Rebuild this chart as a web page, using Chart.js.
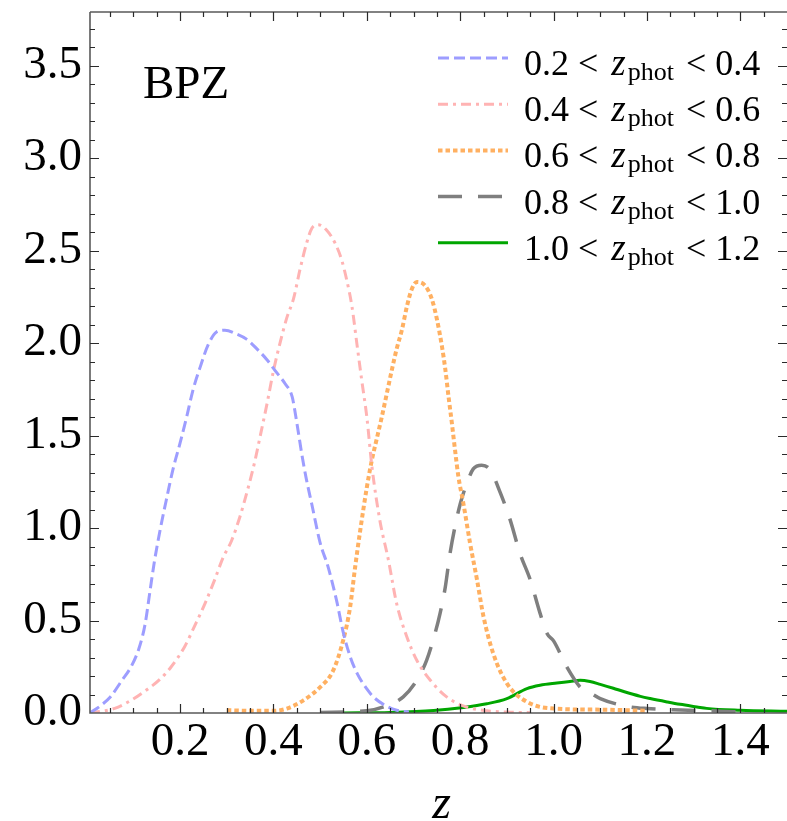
<!DOCTYPE html>
<html><head><meta charset="utf-8">
<script src="https://cdn.jsdelivr.net/npm/chart.js@4/dist/chart.umd.min.js"></script>
<style>html,body{margin:0;padding:0;background:#fff;}canvas{display:block;}</style>
</head><body>
<canvas id="c" width="787" height="821"></canvas>
<script>
// ---- data ----
const z1 = [0.007,0.03,0.05,0.075,0.095,0.112,0.125,0.135,0.145,0.158,0.172,0.185,0.20,0.214,0.228,0.243,0.26,0.278,0.296,0.32,0.343,0.364,0.386,0.407,0.425,0.44,0.45,0.46,0.47,0.482,0.50,0.517,0.535,0.55,0.565,0.58,0.60,0.614,0.64,0.664,0.69];
const p1 = [0.0,0.04,0.085,0.175,0.25,0.35,0.48,0.65,0.82,1.0,1.17,1.32,1.46,1.60,1.75,1.87,1.99,2.06,2.07,2.05,2.02,1.97,1.91,1.84,1.78,1.71,1.57,1.41,1.27,1.13,0.92,0.79,0.61,0.43,0.30,0.21,0.13,0.087,0.04,0.015,0.005];

const z2 = [0.007,0.02,0.06,0.096,0.131,0.156,0.181,0.21,0.231,0.253,0.274,0.292,0.31,0.328,0.346,0.36,0.371,0.386,0.40,0.414,0.429,0.443,0.457,0.471,0.482,0.496,0.514,0.532,0.546,0.557,0.568,0.579,0.589,0.60,0.611,0.628,0.646,0.664,0.686,0.707,0.736,0.771,0.814,0.857,0.9,0.95];
const p2 = [0.0,0.005,0.025,0.07,0.13,0.18,0.25,0.36,0.47,0.59,0.72,0.84,0.93,1.06,1.22,1.36,1.49,1.67,1.85,2.00,2.14,2.24,2.40,2.54,2.62,2.64,2.61,2.54,2.45,2.34,2.20,1.99,1.80,1.60,1.33,1.04,0.83,0.59,0.41,0.285,0.177,0.087,0.032,0.012,0.005,0.002];

const z3 = [0.30,0.35,0.40,0.43,0.465,0.50,0.528,0.55,0.564,0.575,0.586,0.60,0.611,0.621,0.632,0.643,0.654,0.664,0.675,0.686,0.696,0.707,0.725,0.739,0.75,0.761,0.768,0.775,0.782,0.789,0.796,0.807,0.821,0.836,0.85,0.871,0.90,0.943,1.0,1.1,1.2];
const p3 = [0.015,0.012,0.012,0.025,0.07,0.14,0.23,0.40,0.57,0.79,0.99,1.22,1.37,1.48,1.60,1.73,1.86,1.97,2.07,2.20,2.29,2.33,2.31,2.24,2.13,1.98,1.86,1.71,1.57,1.42,1.28,1.13,0.92,0.72,0.52,0.32,0.16,0.06,0.024,0.018,0.012];

const z4 = [0.50,0.60,0.643,0.678,0.707,0.728,0.746,0.757,0.768,0.778,0.789,0.80,0.814,0.828,0.846,0.864,0.886,0.907,0.928,0.95,0.971,0.986,1.0,1.028,1.057,1.078,1.10,1.157,1.2,1.257,1.357,1.40];
const p4 = [0.003,0.012,0.04,0.087,0.177,0.285,0.43,0.54,0.68,0.86,1.01,1.13,1.24,1.32,1.34,1.315,1.19,1.044,0.863,0.72,0.54,0.43,0.39,0.25,0.14,0.11,0.078,0.036,0.024,0.018,0.01,0.006];

const z5 = [0.55,0.65,0.743,0.807,0.857,0.90,0.943,0.971,1.007,1.035,1.057,1.078,1.10,1.128,1.15,1.186,1.207,1.243,1.271,1.307,1.328,1.40,1.50];
const p5 = [0.0,0.003,0.013,0.03,0.05,0.078,0.132,0.15,0.162,0.17,0.177,0.17,0.155,0.134,0.116,0.09,0.078,0.06,0.047,0.033,0.025,0.015,0.009];

const binLow  = ['0.2','0.4','0.6','0.8','1.0'];
const binHigh = ['0.4','0.6','0.8','1.0','1.2'];
const xTicks = [0.2,0.4,0.6,0.8,1.0,1.2,1.4];
const yTicks = [0.0,0.5,1.0,1.5,2.0,2.5,3.0,3.5];
const panelLabel = 'BPZ';
const axisTitle = 'z';

// ---- styling ----
const SERIF = '"Liberation Serif", "Times New Roman", serif';
const styles = [
  {color:'#9d9dff', width:3, dash:[11,5]},
  {color:'#ffb3b3', width:3, dash:[10,5,3,5]},
  {color:'#ffb061', width:4, dash:[4.5,3]},
  {color:'#7f7f7f', width:3.5, dash:[24,16]},
  {color:'#00a600', width:3, dash:[]}
];
const zs = [z1,z2,z3,z4,z5], ps = [p1,p2,p3,p4,p5];
const datasets = zs.map((z,i)=>({
  label: binLow[i] + ' < z_phot < ' + binHigh[i],
  data: z.map((x,j)=>({x:x, y:ps[i][j]})),
  borderColor: styles[i].color,
  borderWidth: styles[i].width,
  borderDash: styles[i].dash,
  borderCapStyle: 'butt',
  pointRadius: 0,
  fill: false,
  cubicInterpolationMode: 'monotone'
}));

const decorPlugin = {
  id: 'decor',
  afterDraw(chart) {
    const {ctx, chartArea: a, scales: {x, y}} = chart;
    ctx.save();
    // frame
    ctx.strokeStyle = '#5a5a5a'; ctx.lineWidth = 1.6;
    ctx.beginPath();
    ctx.moveTo(a.left, a.top); ctx.lineTo(a.right, a.top);
    ctx.moveTo(a.left, a.top); ctx.lineTo(a.left, a.bottom); ctx.lineTo(a.right, a.bottom);
    ctx.stroke();
    // ticks
    ctx.strokeStyle = '#2a2a2a'; ctx.lineWidth = 1.2;
    ctx.beginPath();
    for (let k = 1; k <= 29; k++) {
      const v = k * 0.05;
      if (v < x.min || v > x.max) continue;
      const major = k % 4 === 0;
      const L = major ? 9 : 5;
      const px = Math.round(x.getPixelForValue(v)) + 0.5;
      ctx.moveTo(px, a.bottom); ctx.lineTo(px, a.bottom - L);
      ctx.moveTo(px, a.top); ctx.lineTo(px, a.top + L);
    }
    for (let k = 1; k <= 37; k++) {
      const v = k * 0.1;
      if (v > y.max) continue;
      const major = k % 5 === 0;
      const L = major ? 9 : 5;
      const py = Math.round(y.getPixelForValue(v)) + 0.5;
      ctx.moveTo(a.left, py); ctx.lineTo(a.left + L, py);
      ctx.moveTo(a.right, py); ctx.lineTo(a.right - L, py);
    }
    ctx.stroke();

    // panel label
    ctx.fillStyle = '#000';
    ctx.textBaseline = 'alphabetic';
    ctx.textAlign = 'left';
    ctx.font = '47px ' + SERIF;
    ctx.fillText(panelLabel, a.left + 53, a.top + 86);

    // axis title
    ctx.textAlign = 'center';
    ctx.font = 'italic 48px ' + SERIF;
    ctx.fillText(axisTitle, (a.left + a.right) / 2 + 3, 818);

    // legend
    ctx.textAlign = 'left';
    chart.data.datasets.forEach((ds, i) => {
      const ly = a.top + 46 + i * 46.2;
      ctx.save();
      ctx.strokeStyle = ds.borderColor;
      ctx.lineWidth = ds.borderWidth;
      ctx.setLineDash(ds.borderDash);
      ctx.lineCap = 'butt';
      ctx.beginPath();
      ctx.moveTo(438, ly); ctx.lineTo(508, ly);
      ctx.stroke();
      ctx.restore();
      let tx = 524;
      const bl = ly + 17;
      ctx.font = '36px ' + SERIF;
      const s1 = binLow[i] + ' < ';
      ctx.fillText(s1, tx, bl); tx += ctx.measureText(s1).width + 4;
      ctx.font = 'italic 37px ' + SERIF;
      ctx.fillText('z', tx, bl); tx += ctx.measureText('z').width + 2;
      ctx.font = '26px ' + SERIF;
      ctx.fillText('phot', tx, bl + 5); tx += ctx.measureText('phot').width + 3;
      ctx.font = '36px ' + SERIF;
      ctx.fillText(' < ' + binHigh[i], tx, bl);
    });
    ctx.restore();
  }
};

new Chart(document.getElementById('c'), {
  type: 'line',
  data: { datasets },
  options: {
    responsive: false,
    animation: false,
    devicePixelRatio: 1,
    layout: { padding: { top: 12, right: 0, bottom: 0, left: 0 } },
    plugins: { legend: { display: false }, tooltip: { enabled: false } },
    scales: {
      x: {
        type: 'linear', min: 0.007, max: 1.5,
        grid: { display: false, drawTicks: false },
        border: { display: false },
        afterBuildTicks: s => { s.ticks = xTicks.map(v => ({ value: v })); },
        afterFit: s => { s.height = 108; s.paddingLeft = 0; s.paddingRight = 0; },
        ticks: { autoSkip: false, maxRotation: 0, padding: 1, color: '#000',
                 font: { family: SERIF, size: 47 }, callback: v => Number(v).toFixed(1) }
      },
      y: {
        type: 'linear', min: 0, max: 3.79,
        grid: { display: false, drawTicks: false },
        border: { display: false },
        afterBuildTicks: s => { s.ticks = yTicks.map(v => ({ value: v })); },
        afterFit: s => { s.width = 90; s.paddingTop = 0; s.paddingBottom = 0; },
        ticks: { autoSkip: false, padding: 8, color: '#000',
                 font: { family: SERIF, size: 47 }, callback: v => Number(v).toFixed(1) }
      }
    }
  },
  plugins: [decorPlugin]
});
</script>
</body></html>
